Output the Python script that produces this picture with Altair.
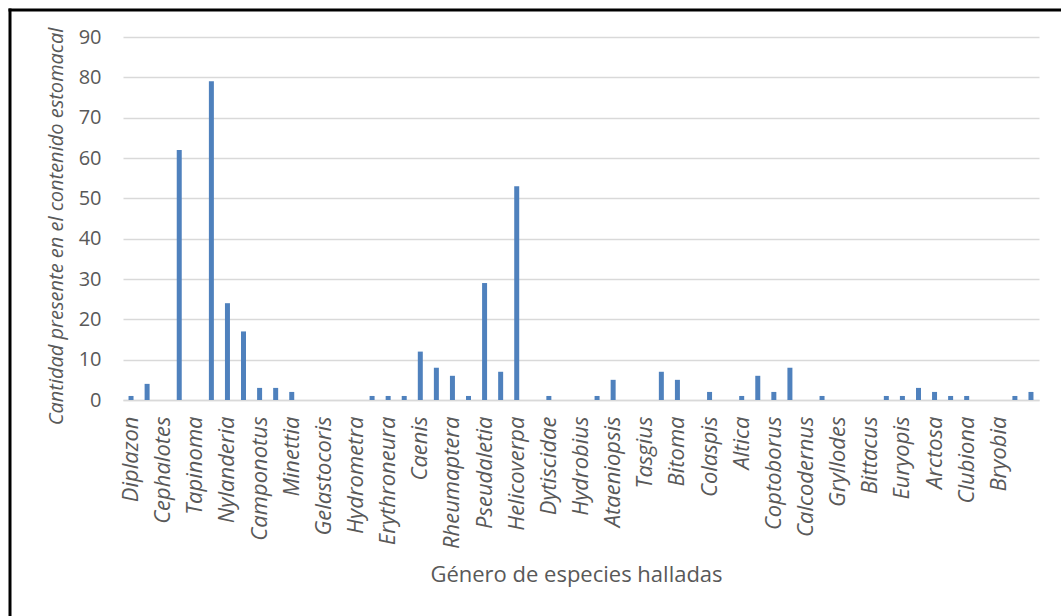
import altair as alt
import pandas as pd

# one entry per category slot (Excel shows only every second label)
labels = [
    "Diplazon", "", "Cephalotes", "", "Tapinoma", "", "Nylanderia", "",
    "Camponotus", "", "Minettia", "", "Gelastocoris", "", "Hydrometra", "",
    "Erythroneura", "", "Caenis", "", "Rheumaptera", "", "Pseudaletia", "",
    "Helicoverpa", "", "Dytiscidae", "", "Hydrobius", "", "Ataeniopsis", "",
    "Tasgius", "", "Bitoma", "", "Colaspis", "", "Altica", "",
    "Coptoborus", "", "Calcodernus", "", "Gryllodes", "", "Bittacus", "",
    "Euryopis", "", "Arctosa", "", "Clubiona", "", "Bryobia", "", "",
]
values = [
    1, 4, 0, 62, 0, 79, 24, 17, 3, 3, 2, 0, 0, 0, 0, 1, 1, 1, 12, 8,
    6, 1, 29, 7, 53, 0, 1, 0, 0, 1, 5, 0, 0, 7, 5, 0, 2, 0, 1, 6,
    2, 8, 0, 1, 0, 0, 0, 1, 1, 3, 2, 1, 1, 0, 0, 1, 2,
]
y_ticks = [0, 10, 20, 30, 40, 50, 60, 70, 80, 90]

df = pd.DataFrame({"idx": list(range(len(values))), "genus": labels, "valor": values})

label_array = "[" + ",".join("'" + s + "'" for s in labels) + "]"

FONT = "Open Sans"
GRAY = "#595959"

bars = alt.Chart(df).mark_bar(size=5, color="#4F81BD").encode(
    x=alt.X(
        "idx:O",
        scale=alt.Scale(paddingInner=0, paddingOuter=0),
        axis=alt.Axis(
            title="Género de especies halladas",
            labelExpr=label_array + "[datum.value]",
            labelAngle=-90,
            labelFont=FONT,
            labelFontSize=22,
            labelFontStyle="italic",
            labelColor=GRAY,
            labelPadding=16,
            ticks=False,
            domain=True,
            domainColor="#D9D9D9",
            domainWidth=1.5,
            titleFont=FONT,
            titleFontSize=22,
            titleFontWeight="normal",
            titleColor=GRAY,
            titleX=453,
            titleY=181,
            titleAlign="center",
            titleBaseline="alphabetic",
        ),
    ),
    y=alt.Y(
        "valor:Q",
        scale=alt.Scale(domain=[0, 90], nice=False),
        axis=alt.Axis(
            title="Cantidad presente en el contenido estomacal",
            values=y_ticks,
            labelFont=FONT,
            labelFontSize=20,
            labelColor=GRAY,
            labelPadding=22,
            ticks=False,
            domain=False,
            grid=True,
            gridColor="#D9D9D9",
            gridWidth=1.5,
            titleFont=FONT,
            titleFontSize=20,
            titleFontStyle="italic",
            titleFontWeight="normal",
            titleColor=GRAY,
            titleAngle=-90,
            titleX=-67,
            titleY=189,
            titleAlign="center",
            titleBaseline="middle",
        ),
    ),
)

frame_df = pd.DataFrame({"a": [0]})
frame_v = alt.Chart(frame_df).mark_rule(color="black", strokeWidth=3).encode(
    x=alt.value(-113), y=alt.value(-28.5), y2=alt.value(600)
)
frame_h = alt.Chart(frame_df).mark_rule(color="black", strokeWidth=3).encode(
    x=alt.value(-114.5), x2=alt.value(960), y=alt.value(-27)
)

chart = (
    alt.layer(bars, frame_v, frame_h)
    .properties(
        width=916,
        height=363,
        autosize=alt.AutoSizeParams(type="none"),
        padding={"left": 123, "top": 37, "right": 22, "bottom": 216},
        background="white",
    )
    .configure_view(stroke=None)
)

chart.save("out.html", embed_options={"renderer": "svg", "actions": False})
